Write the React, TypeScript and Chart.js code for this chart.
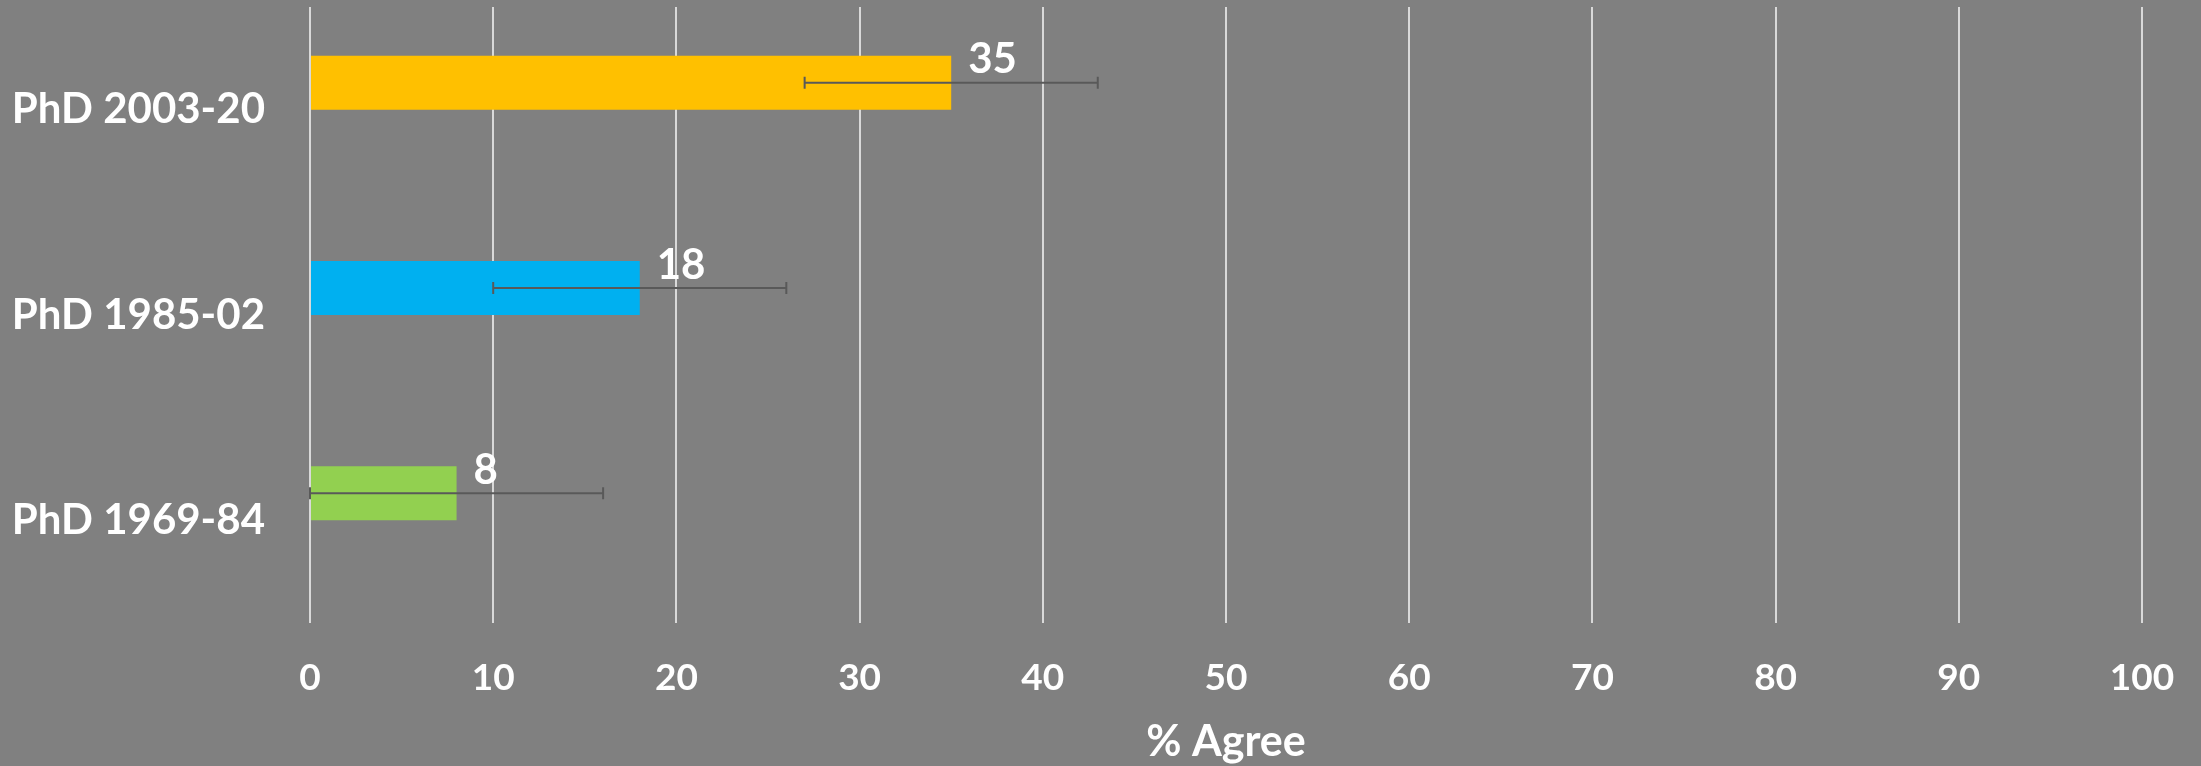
import React, { useEffect, useRef } from "react";
import { Chart, registerables } from "chart.js";

Chart.register(...registerables);

const categories = ["PhD 2003-20", "PhD 1985-02", "PhD 1969-84"];
const agreeValues = [35, 18, 8];
const errorValues = [8, 8, 8];
const barColors = ["#FFC000", "#00B0F0", "#92D050"];
const xTicks = [0, 10, 20, 30, 40, 50, 60, 70, 80, 90, 100];

const FONT = "Lato, 'Open Sans', sans-serif";

const errorBarPlugin = {
  id: "errorBars",
  afterDatasetsDraw(chart: any) {
    const meta = chart.getDatasetMeta(0);
    const xs = chart.scales.x;
    const ctx = chart.ctx;
    ctx.save();
    ctx.strokeStyle = "#595959";
    ctx.lineWidth = 2;
    meta.data.forEach((bar: any, i: number) => {
      const v = agreeValues[i];
      const e = errorValues[i];
      const lo = xs.getPixelForValue(Math.max(0, v - e));
      const hi = xs.getPixelForValue(v + e);
      const y = bar.y;
      ctx.beginPath();
      ctx.moveTo(lo, y);
      ctx.lineTo(hi, y);
      ctx.moveTo(lo, y - 6);
      ctx.lineTo(lo, y + 6);
      ctx.moveTo(hi, y - 6);
      ctx.lineTo(hi, y + 6);
      ctx.stroke();
    });
    // data labels
    ctx.fillStyle = "#FFFFFF";
    ctx.font = `bold 42px ${FONT}`;
    ctx.textAlign = "left";
    ctx.textBaseline = "middle";
    meta.data.forEach((bar: any, i: number) => {
      const top = bar.y - bar.height / 2;
      ctx.fillText(String(agreeValues[i]), bar.x + 17, top + 4);
    });
    ctx.restore();
  },
};

export default function App() {
  const ref = useRef<HTMLCanvasElement | null>(null);
  useEffect(() => {
    if (!ref.current) return;
    const chart = new Chart(ref.current, {
      type: "bar",
      data: {
        labels: categories,
        datasets: [
          {
            data: agreeValues,
            backgroundColor: barColors,
            borderWidth: 0,
            categoryPercentage: 0.526,
            barPercentage: 1,
          },
          {
            data: categories.map(() => null),
            backgroundColor: "transparent",
            categoryPercentage: 0.526,
            barPercentage: 1,
          },
        ],
      },
      options: {
        indexAxis: "y",
        animation: false,
        responsive: true,
        maintainAspectRatio: false,
        layout: { padding: { top: 7, right: 59, left: 0, bottom: 0 } },
        plugins: {
          legend: { display: false },
          tooltip: { enabled: false },
        },
        scales: {
          x: {
            min: 0,
            max: 100,
            afterFit(scale: any) {
              scale.height = 143;
              scale.paddingLeft = 0;
              scale.paddingRight = 0;
              scale.paddingTop = 0;
              scale.paddingBottom = 0;
            },
            afterBuildTicks(scale: any) {
              scale.ticks = xTicks.map((v) => ({ value: v }));
            },
            grid: {
              color: "#D9D9D9",
              lineWidth: 2,
              drawTicks: false,
            },
            border: { display: false },
            ticks: {
              color: "#FFFFFF",
              padding: 33,
              font: { family: FONT, size: 37, weight: "bold" },
            },
            title: {
              display: true,
              text: "% Agree",
              color: "#FFFFFF",
              font: { family: FONT, size: 43, weight: "bold", lineHeight: 1.0 },
              padding: { top: 0, bottom: 2 },
            },
          },
          y: {
            afterFit(scale: any) {
              scale.width = 310;
              scale.paddingLeft = 0;
              scale.paddingRight = 0;
              scale.paddingTop = 0;
              scale.paddingBottom = 0;
            },
            grid: { display: false, drawTicks: false },
            border: { display: false },
            ticks: {
              color: "#FFFFFF",
              padding: 45,
              font: { family: FONT, size: 42, weight: "bold" },
            },
          },
        },
      },
      plugins: [errorBarPlugin],
    } as any);
    return () => chart.destroy();
  }, []);

  return (
    <div
      style={{
        position: "fixed",
        left: 0,
        top: 0,
        width: "2201px",
        height: "766px",
        background: "#808080",
      }}
    >
      <canvas ref={ref} />
    </div>
  );
}
